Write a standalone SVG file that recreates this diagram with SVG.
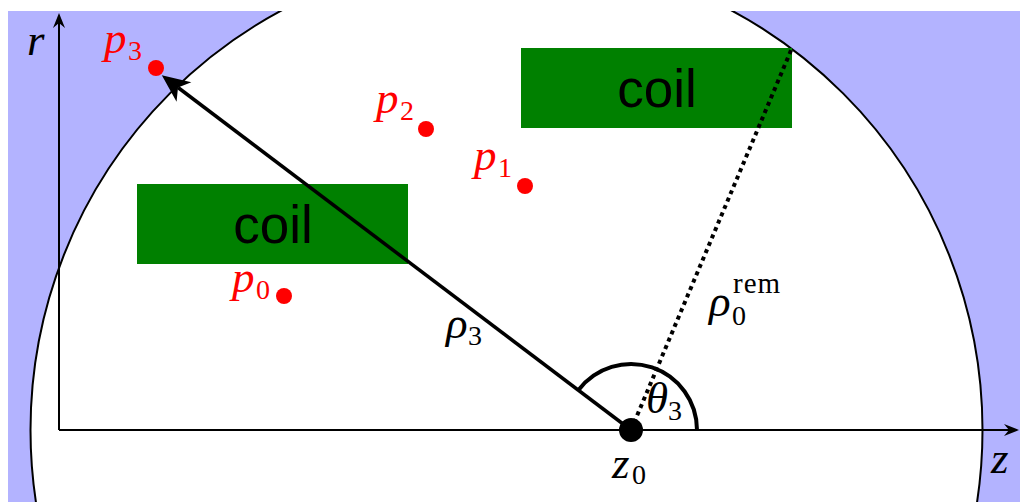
<svg xmlns="http://www.w3.org/2000/svg" width="1020" height="502" viewBox="0 0 1020 502">
<style>
.m{font-family:"Liberation Serif","DejaVu Serif",serif;font-style:italic;font-size:45px}
.s{font-family:"Liberation Serif","DejaVu Serif",serif;font-style:normal;font-size:28px}
.sup{font-family:"Liberation Serif","DejaVu Serif",serif;font-style:normal;font-size:29px;letter-spacing:1px}
.red{fill:#ff0000}
.coil{fill:#008000}
.ct{font-family:"Liberation Sans",Arial,sans-serif;font-size:53px;fill:#000;text-anchor:middle}
.pt{fill:#ff0000}
</style>
<defs>
<clipPath id="clipR"><rect x="8" y="11" width="1012" height="491"/></clipPath>
<marker id="ax" markerUnits="userSpaceOnUse" markerWidth="20" markerHeight="16" viewBox="-16 -8 18 16" refX="-10" refY="0" orient="auto">
<path d="M0,0 L-15,-6 L-10,0 L-15,6 z" fill="#000"/>
</marker>
<marker id="big" markerUnits="userSpaceOnUse" markerWidth="32" markerHeight="28" viewBox="-28 -13 30 26" refX="-19" refY="0" orient="auto">
<path d="M0,0 L-26,-11.5 L-19,0 L-26,11.5 z" fill="#000"/>
</marker>
</defs>
<g id="background" clip-path="url(#clipR)">
<rect x="8" y="11" width="1012" height="491" fill="#b3b3ff"/>
<circle cx="506.5" cy="430" r="476" fill="#fff" stroke="#000" stroke-width="2"/>
</g>
<g id="coil-left">
<rect class="coil" x="137" y="184" width="271" height="80"/>
<text class="ct" x="273" y="243">coil</text>
</g>
<g id="coil-right">
<rect class="coil" x="521" y="48" width="271" height="80"/>
<text class="ct" x="657" y="107">coil</text>
</g>
<g id="connectors" fill="none" stroke="#000">
<line x1="59" y1="430" x2="1009" y2="430" stroke-width="2" marker-end="url(#ax)"/>
<line x1="59" y1="430" x2="59" y2="23" stroke-width="2" marker-end="url(#ax)"/>
<line x1="631" y1="430" x2="178" y2="87.5" stroke-width="3.5" marker-end="url(#big)"/>
<line x1="631" y1="430" x2="792" y2="48" stroke-width="4" stroke-dasharray="4 4"/>
<path d="M697,430 A66,66 0 0 0 578.5,390" stroke-width="4"/>
</g>
<g id="z0">
<circle cx="631" cy="430" r="12" fill="#000"/>
<text class="m" x="612" y="478">z</text><text class="s" x="632" y="484">0</text>
</g>
<g id="p0"><circle class="pt" cx="284" cy="296" r="8"/><text class="m red" x="232" y="292">p</text><text class="s red" x="256" y="299">0</text></g>
<g id="p1"><circle class="pt" cx="525" cy="186" r="8"/><text class="m red" x="474" y="170">p</text><text class="s red" x="498" y="177">1</text></g>
<g id="p2"><circle class="pt" cx="426" cy="129" r="8"/><text class="m red" x="376" y="113">p</text><text class="s red" x="400" y="120">2</text></g>
<g id="p3"><circle class="pt" cx="156" cy="68" r="8"/><text class="m red" x="104" y="53">p</text><text class="s red" x="128" y="60">3</text></g>
<g id="labels">
<text class="m" x="27" y="55">r</text>
<text class="m" x="991" y="473">z</text>
<text class="m" x="446" y="338">ρ</text><text class="s" x="468" y="345">3</text>
<text class="m" x="709" y="316">ρ</text><text class="s" x="732" y="325">0</text><text class="sup" x="733" y="293">rem</text>
<text class="m" x="646" y="413">θ</text><text class="s" x="668" y="420">3</text>
</g>
</svg>
